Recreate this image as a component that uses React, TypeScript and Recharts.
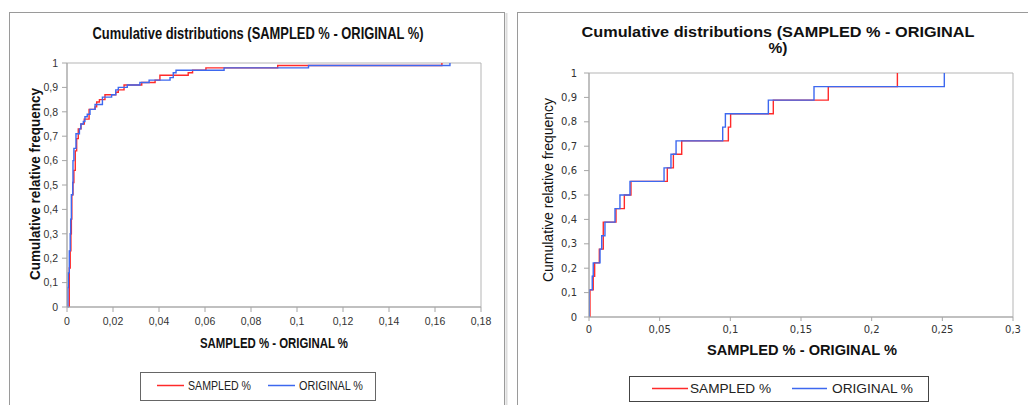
import React from "react";
import { LineChart, Line, XAxis, YAxis, ReferenceArea } from "recharts";

// ---------- Left chart data (cumulative relative frequency steps) ----------
const leftSampledX = [0.001, 0.001, 0.0014, 0.0017, 0.0019, 0.0021, 0.0026, 0.003, 0.0036, 0.0042, 0.0049, 0.0061, 0.0075, 0.0096, 0.0122, 0.0129, 0.0141, 0.0165, 0.0212, 0.0223, 0.0248, 0.0325, 0.0383, 0.0404, 0.0527, 0.0546, 0.0604, 0.0916, 0.163];
const leftSampledY = [0, 0.16, 0.23, 0.3, 0.36, 0.46, 0.51, 0.56, 0.64, 0.69, 0.73, 0.75, 0.77, 0.81, 0.82, 0.84, 0.85, 0.87, 0.88, 0.89, 0.91, 0.92, 0.93, 0.95, 0.96, 0.97, 0.98, 0.99, 1];
const leftOriginalX = [0.0003, 0.0004, 0.0006, 0.001, 0.0014, 0.0016, 0.0019, 0.0025, 0.0026, 0.003, 0.0039, 0.0054, 0.006, 0.0071, 0.0078, 0.0088, 0.01, 0.0122, 0.0154, 0.0194, 0.0212, 0.0223, 0.0262, 0.0317, 0.0357, 0.0448, 0.0462, 0.0474, 0.0683, 0.105, 0.1665];
const leftOriginalY = [0, 0.08, 0.14, 0.23, 0.3, 0.36, 0.46, 0.51, 0.6, 0.65, 0.71, 0.73, 0.75, 0.76, 0.78, 0.79, 0.81, 0.83, 0.86, 0.87, 0.89, 0.9, 0.91, 0.92, 0.93, 0.94, 0.96, 0.97, 0.98, 0.99, 1];
const leftXTicks = [0, 0.02, 0.04, 0.06, 0.08, 0.1, 0.12, 0.14, 0.16, 0.18];

// ---------- Right chart data ----------
const rightSampledX = [0.0007, 0.0007, 0.003, 0.004, 0.0073, 0.0101, 0.0191, 0.025, 0.0297, 0.0554, 0.0597, 0.0656, 0.0986, 0.1002, 0.1304, 0.1693, 0.2182];
const rightSampledY = [0, 0.111, 0.167, 0.222, 0.278, 0.389, 0.444, 0.5, 0.556, 0.611, 0.667, 0.722, 0.778, 0.833, 0.889, 0.944, 1];
const rightOriginalX = [0.0002, 0.0002, 0.0023, 0.003, 0.0078, 0.009, 0.0113, 0.0184, 0.0219, 0.029, 0.0531, 0.058, 0.0616, 0.0946, 0.0965, 0.1269, 0.1592, 0.2514];
const rightOriginalY = [0, 0.111, 0.167, 0.222, 0.278, 0.333, 0.389, 0.444, 0.5, 0.556, 0.611, 0.667, 0.722, 0.778, 0.833, 0.889, 0.944, 1];
const rightXTicks = [0, 0.05, 0.1, 0.15, 0.2, 0.25, 0.3];

const yTicks = [0, 0.1, 0.2, 0.3, 0.4, 0.5, 0.6, 0.7, 0.8, 0.9, 1];

const titleText = "Cumulative distributions (SAMPLED % - ORIGINAL %)";
const rightTitle1 = "Cumulative distributions (SAMPLED % - ORIGINAL";
const rightTitle2 = "%)";
const yTitle = "Cumulative relative frequency";
const xTitle = "SAMPLED % - ORIGINAL %";
const sampledName = "SAMPLED %";
const originalName = "ORIGINAL %";

const RED = "#ff2a2a";
const BLUE = "#3d68ef";

const zip = (xs: number[], ys: number[]) => xs.map((x, i) => ({ x, y: ys[i] }));
const fmt = (v: number) => String(v).replace(".", ",");

export default function App() {
  const lS = zip(leftSampledX, leftSampledY);
  const lO = zip(leftOriginalX, leftOriginalY);
  const rS = zip(rightSampledX, rightSampledY);
  const rO = zip(rightOriginalX, rightOriginalY);
  const font = "'Liberation Sans', Arial, sans-serif";
  return (
    <div style={{ position: "absolute", left: 0, top: 0, width: 1028, height: 405, background: "#fff", overflow: "hidden" }}>
      <div style={{ position: "absolute", left: 0, top: 0 }}>
        <LineChart width={505} height={405} margin={{ top: 63, right: 24, left: 30, bottom: 58 }}>
          <XAxis type="number" dataKey="x" domain={[0, 0.18]} ticks={leftXTicks} tickFormatter={fmt}
            allowDataOverflow height={40} tickSize={5} tickMargin={6}
            stroke="#a6a6a6" tick={{ fill: "#333", fontSize: 10.5, fontFamily: font }} />
          <YAxis type="number" dataKey="y" domain={[0, 1]} ticks={yTicks} tickFormatter={fmt}
            width={37} tickSize={5} tickMargin={4}
            stroke="#a6a6a6" tick={{ fill: "#333", fontSize: 10.5, fontFamily: font }} />
          <ReferenceArea x1={0} x2={0.18} y1={0} y2={1} fill="none" stroke="#b5b5b5" />
          <Line data={lS} dataKey="y" type="stepAfter" stroke={RED} strokeWidth={1.4} dot={false} isAnimationActive={false} />
          <Line data={lO} dataKey="y" type="stepAfter" stroke={BLUE} strokeWidth={1.4} dot={false} isAnimationActive={false} />
        </LineChart>
      </div>
      <div style={{ position: "absolute", left: 517, top: 0 }}>
        <LineChart width={511} height={405} margin={{ top: 73, right: 15, left: 32, bottom: 48 }}>
          <XAxis type="number" dataKey="x" domain={[0, 0.3]} ticks={rightXTicks} tickFormatter={fmt}
            allowDataOverflow height={40} tickSize={4} tickMargin={5}
            stroke="#a6a6a6" tick={{ fill: "#333", fontSize: 10, fontFamily: "'DejaVu Sans', Verdana, sans-serif" }} />
          <YAxis type="number" dataKey="y" domain={[0, 1]} ticks={yTicks} tickFormatter={fmt}
            width={40} tickSize={5} tickMargin={7}
            stroke="#a6a6a6" tick={{ fill: "#333", fontSize: 10, fontFamily: "'DejaVu Sans', Verdana, sans-serif" }} />
          <ReferenceArea x1={0} x2={0.3} y1={0} y2={1} fill="none" stroke="#b5b5b5" />
          <Line data={rS} dataKey="y" type="stepAfter" stroke={RED} strokeWidth={1.4} dot={false} isAnimationActive={false} />
          <Line data={rO} dataKey="y" type="stepAfter" stroke={BLUE} strokeWidth={1.4} dot={false} isAnimationActive={false} />
        </LineChart>
      </div>
      <svg width={1028} height={405} style={{ position: "absolute", left: 0, top: 0, pointerEvents: "none" }}>
        {/* frames */}
        <rect x={9.5} y={12.5} width={495} height={400} fill="none" stroke="#9a9a9a" />
        <line x1={506.5} y1={13} x2={506.5} y2={405} stroke="#dcdcdc" strokeWidth={2} />
        <rect x={517.5} y={12.5} width={520} height={400} fill="none" stroke="#9a9a9a" />

        {/* left titles */}
        <text x={258} y={39} textAnchor="middle" fontFamily={font} fontWeight="bold" fontSize={16.5} fill="#111"
          textLength={331} lengthAdjust="spacingAndGlyphs">{titleText}</text>
        <text transform="translate(40,184) rotate(-90)" textAnchor="middle" fontFamily={font} fontWeight="bold" fontSize={14} fill="#111"
          textLength={192} lengthAdjust="spacingAndGlyphs">{yTitle}</text>
        <text x={274} y={348} textAnchor="middle" fontFamily={font} fontWeight="bold" fontSize={14} fill="#111"
          textLength={148} lengthAdjust="spacingAndGlyphs">{xTitle}</text>

        {/* right titles */}
        <text x={778} y={37} textAnchor="middle" fontFamily={font} fontWeight="bold" fontSize={15.5} fill="#111"
          textLength={393} lengthAdjust="spacingAndGlyphs">{rightTitle1}</text>
        <text x={778} y={53} textAnchor="middle" fontFamily={font} fontWeight="bold" fontSize={15.5} fill="#111">{rightTitle2}</text>
        <text transform="translate(553,190) rotate(-90)" textAnchor="middle" fontFamily={font} fontSize={14} fill="#111"
          textLength={184} lengthAdjust="spacingAndGlyphs">{yTitle}</text>
        <text x={802} y={355} textAnchor="middle" fontFamily={font} fontWeight="bold" fontSize={14} fill="#111"
          textLength={190} lengthAdjust="spacingAndGlyphs">{xTitle}</text>

        {/* left legend */}
        <rect x={140.5} y={372.5} width={235} height={28} fill="#fff" stroke="#666" />
        <line x1={157} y1={385.5} x2={184} y2={385.5} stroke={RED} strokeWidth={1.5} />
        <text x={188} y={390} fontFamily={font} fontSize={12.5} fill="#222" textLength={63} lengthAdjust="spacingAndGlyphs">{sampledName}</text>
        <line x1={268} y1={385.5} x2={295} y2={385.5} stroke={BLUE} strokeWidth={1.5} />
        <text x={299} y={390} fontFamily={font} fontSize={12.5} fill="#222" textLength={64} lengthAdjust="spacingAndGlyphs">{originalName}</text>

        {/* right legend */}
        <rect x={629.5} y={376.5} width={299} height={25} fill="#fff" stroke="#444" />
        <line x1={652} y1={388.5} x2={688} y2={388.5} stroke={RED} strokeWidth={1.3} />
        <text x={690} y={393} fontFamily={font} fontSize={13} fill="#222" textLength={81} lengthAdjust="spacingAndGlyphs">{sampledName}</text>
        <line x1={792} y1={388.5} x2={827} y2={388.5} stroke={BLUE} strokeWidth={1.3} />
        <text x={832} y={393} fontFamily={font} fontSize={13} fill="#222" textLength={81} lengthAdjust="spacingAndGlyphs">{originalName}</text>
      </svg>
    </div>
  );
}
